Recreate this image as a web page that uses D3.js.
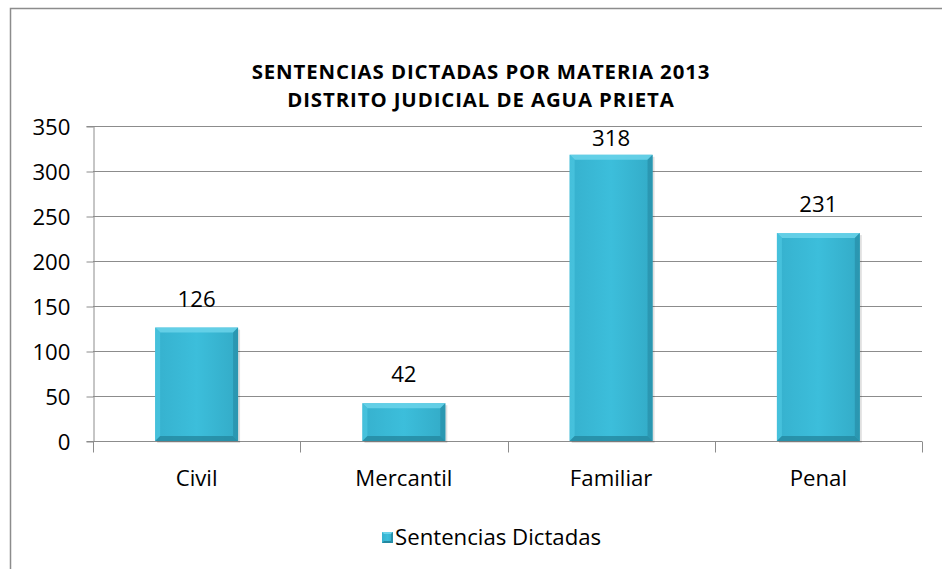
<!DOCTYPE html>
<html><head><meta charset="utf-8">
<script src="https://cdn.jsdelivr.net/npm/d3@7"></script>
<style>body{margin:0;background:#fff}svg{display:block}text{font-family:"Open Sans",sans-serif}</style>
</head><body>
<script>
const categories = ["Civil","Mercantil","Familiar","Penal"];
const values = [126,42,318,231];
const seriesName = "Sentencias Dictadas";
const titleLines = ["SENTENCIAS DICTADAS POR MATERIA 2013","DISTRITO JUDICIAL DE AGUA PRIETA"];
const yTicks = [0,50,100,150,200,250,300,350];

const W=942,H=569, FS=22.2, FF="'Open Sans',sans-serif";
const svg=d3.select("body").append("svg").attr("width",W).attr("height",H);
const defs=svg.append("defs");
const g1=defs.append("linearGradient").attr("id","barg").attr("x1",0).attr("x2",1).attr("y1",0).attr("y2",0);
g1.append("stop").attr("offset","0").attr("stop-color","#36b1ce");
g1.append("stop").attr("offset","0.5").attr("stop-color","#3cbedb");
g1.append("stop").attr("offset","1").attr("stop-color","#33abc7");

// outer border
svg.append("rect").attr("x",10.5).attr("y",8.5).attr("width",W).attr("height",H).attr("fill","none").attr("stroke","#8c8c8c").attr("stroke-width",1.5);

const m={l:93,r:922,t:126,b:441};
const x=d3.scaleBand().domain(categories).range([m.l,m.r]).paddingInner(0.6).paddingOuter(0.3);
const xb=d3.scaleBand().domain(categories).range([m.l,m.r]);
const y=d3.scaleLinear().domain([0,350]).range([m.b,m.t]);

// title
svg.append("g").selectAll("text").data(titleLines).join("text")
 .attr("x",481).attr("y",(d,i)=>79+i*28).attr("text-anchor","middle")
 .attr("font-size",20.4).attr("letter-spacing","0.9px").attr("font-weight","bold").attr("fill","#000").text(d=>d);

// gridlines
svg.append("g").selectAll("line").data(yTicks).join("line")
 .attr("x1",m.l).attr("x2",m.r).attr("y1",d=>y(d)+0.5).attr("y2",d=>y(d)+0.5)
 .attr("stroke","#8c8c8c").attr("stroke-width",1.2);

// y axis
const ya=svg.append("g").attr("transform",`translate(${m.l+0.5},0)`)
 .call(d3.axisLeft(y).tickValues(yTicks).tickSize(7).tickPadding(16));
ya.select(".domain").attr("stroke","#8c8c8c");
ya.selectAll(".tick line").attr("stroke","#8c8c8c").attr("transform","translate(0,0.5)");
ya.selectAll(".tick text").attr("font-size",FS).attr("fill","#000").attr("font-family",FF).attr("dy","0.36em");

// x axis
const xa=svg.append("g").attr("transform",`translate(0,${m.b+0.5})`);
xa.append("line").attr("x1",m.l).attr("x2",m.r).attr("stroke","#8c8c8c").attr("stroke-width",1.2);
const bounds=categories.map(c=>xb(c)).concat([xb(categories[categories.length-1])+xb.bandwidth()]);
xa.selectAll("line.t").data(bounds).join("line").attr("class","t")
 .attr("x1",d=>Math.round(d)+0.5).attr("x2",d=>Math.round(d)+0.5).attr("y1",0).attr("y2",11).attr("stroke","#8c8c8c");
xa.selectAll("text").data(categories).join("text")
 .attr("x",d=>xb(d)+xb.bandwidth()/2).attr("y",44).attr("text-anchor","middle")
 .attr("font-size",FS).attr("fill","#000").text(d=>d);

// bars
const bw=x.bandwidth();
const bars=svg.append("g").selectAll("g").data(values).join("g")
 .attr("transform",(d,i)=>`translate(${x(categories[i])},${y(d)})`);
bars.append("rect").attr("x",2).attr("y",2).attr("width",bw).attr("height",(d)=>y(0)-y(d)).attr("fill","#000").attr("opacity",0.12);
bars.append("rect").attr("width",bw).attr("height",d=>y(0)-y(d)).attr("fill","url(#barg)");
const bv=5;
bars.append("path").attr("d",d=>`M0,0L${bw},0L${bw-bv},${bv}L${bv},${bv}Z`).attr("fill","#6bd3ea").attr("opacity",0.85);
bars.append("path").attr("d",d=>{const h=y(0)-y(d);return `M0,0L${bv},${bv}L${bv},${h-bv}L0,${h}Z`;}).attr("fill","#4ac4df").attr("opacity",0.8);
bars.append("path").attr("d",d=>{const h=y(0)-y(d);return `M${bw},0L${bw},${h}L${bw-bv},${h-bv}L${bw-bv},${bv}Z`;}).attr("fill","#2890a9").attr("opacity",0.75);
bars.append("path").attr("d",d=>{const h=y(0)-y(d);return `M0,${h}L${bw},${h}L${bw-bv},${h-bv}L${bv},${h-bv}Z`;}).attr("fill","#2488a0").attr("opacity",0.8);

// value labels
svg.append("g").selectAll("text").data(values).join("text")
 .attr("x",(d,i)=>x(categories[i])+bw/2).attr("y",d=>Math.max(y(d)-21,m.t+20)).attr("text-anchor","middle")
 .attr("font-size",FS).attr("fill","#000").text(d=>d);

// legend
const lg=svg.append("g").attr("transform","translate(382,532)");
lg.append("rect").attr("width",11).attr("height",11).attr("fill","url(#barg)");
lg.append("path").attr("d","M0,0L11,0L9,2L2,2Z").attr("fill","#6bd3ea");
lg.append("path").attr("d","M11,0L11,11L9,9L9,2Z").attr("fill","#2890a9");
lg.append("path").attr("d","M0,11L11,11L9,9L2,9Z").attr("fill","#2488a0");
lg.append("text").attr("x",13).attr("y",13).attr("font-size",FS).attr("fill","#000").text(seriesName);
</script>
</body></html>
